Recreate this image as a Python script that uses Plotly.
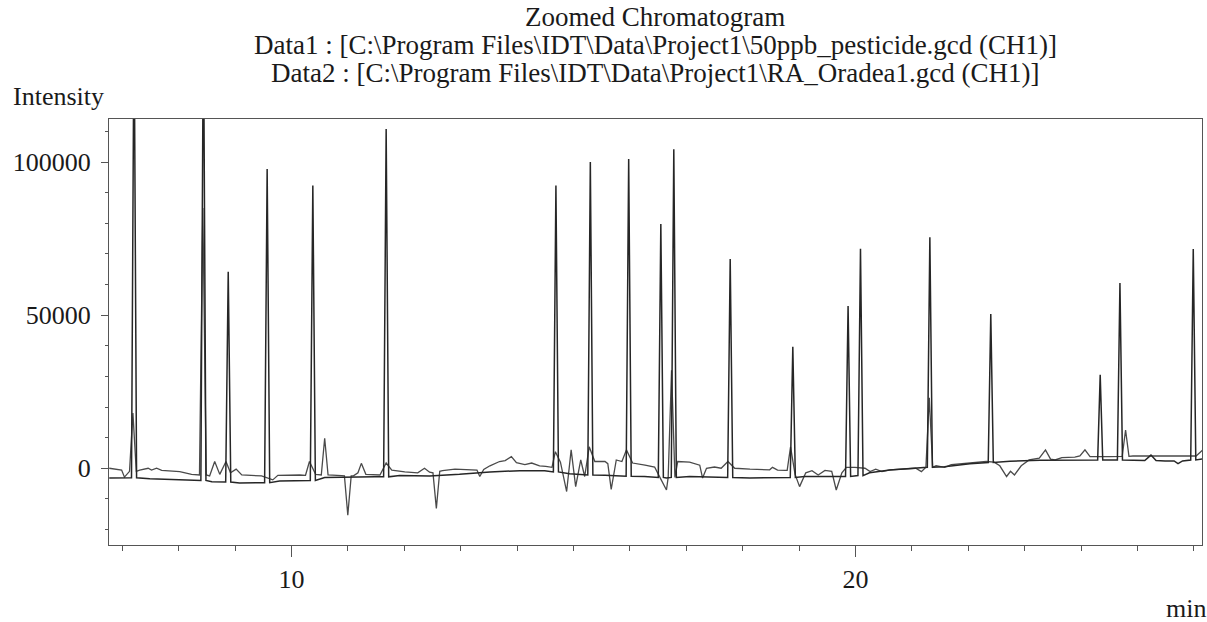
import plotly.graph_objects as go

# ---------------- data ----------------
# Data1 : 50ppb_pesticide.gcd (CH1) -- baseline points (min, intensity)
d1_base_t = [6.77, 7.04, 7.10, 7.49, 7.93, 8.32, 8.59, 8.76, 9.08, 9.44, 9.79, 10.24, 10.59,
             11.03, 11.48, 11.92, 12.45, 12.98, 13.52, 14.05, 14.49, 14.93, 15.20, 15.56, 15.82,
             16.26, 16.65, 17.06, 17.42, 18.13, 18.57, 19.10, 19.54, 20.25, 20.61, 20.96, 21.58,
             22.03, 22.74, 23.27, 23.80, 24.16, 25.04, 25.13, 25.24, 25.33, 25.49, 25.65, 25.72,
             25.80, 26.15]
d1_base_i = [-3200, -3100, -3100, -3400, -3700, -4000, -4400, -4500, -4800, -4900, -4200, -3900, -3000,
             -2800, -2800, -2400, -2500, -2000, -1200, -800, -800, -1800, -2100, -2300, -2500,
             -2700, -3200, -2700, -2900, -3200, -3100, -2700, -2700, -1500, -600, -200, 500,
             1500, 2300, 2600, 2700, 2700, 2500, 2500, 4300, 2500, 2400, 2400, 1500,
             2400, 3000]
# Data1 peaks: retention time, apex intensity, foot level
d1_peak_t = [7.21, 8.44, 8.88, 9.57, 10.38, 11.68, 14.69, 15.30, 15.98, 16.55, 16.78, 17.78,
             18.89, 19.87, 20.09, 21.32, 22.40, 24.34, 24.69, 25.99]
d1_peak_h = [150000, 150000, 64200, 97700, 92300, 110800, 92300, 100000, 101000, 79800, 104200, 68300,
             39700, 53000, 71700, 75400, 50400, 30500, 60500, 71600]
d1_peak_b = [-3100, -4000, -4500, -4700, -4000, -2800, -1200, -2200, -2600, -3000, -3000, -3000,
             -3000, -2700, -2400, 300, 1900, 2700, 2700, 2700]

# Data2 : RA_Oradea1.gcd (CH1) -- baseline points (min, intensity)
d2_base_t = [6.77, 6.92, 6.99, 7.04, 7.10, 7.31, 7.46, 7.52, 7.61, 7.70, 8.02, 8.23, 8.55, 8.64,
             8.73, 8.84, 8.92, 9.02, 9.12, 9.47, 9.67, 9.76, 10.15, 10.25, 10.32, 10.43, 10.73,
             10.89, 10.94, 11.00, 11.06, 11.10, 11.18, 11.24, 11.32, 11.57, 11.68, 11.78, 12.01,
             12.24, 12.36, 12.45, 12.51, 12.57, 12.63, 12.68, 12.90, 13.16, 13.29, 13.34, 13.41,
             13.52, 13.69, 13.79, 13.90, 13.99, 14.14, 14.26, 14.40, 14.51, 14.62, 14.68, 14.77,
             14.88, 14.96, 15.04, 15.13, 15.20, 15.28, 15.38, 15.56, 15.61, 15.67, 15.76, 15.86,
             15.94, 16.05, 16.27, 16.44, 16.52, 16.65, 16.85, 17.06, 17.24, 17.29, 17.36, 17.50,
             17.62, 17.74, 17.86, 18.13, 18.48, 18.53, 18.62, 18.76, 18.93, 19.01, 19.12, 19.23,
             19.34, 19.46, 19.58, 19.66, 19.76, 19.84, 19.99, 20.17, 20.26, 20.36, 20.47, 20.61,
             20.79, 20.96, 21.07, 21.17, 21.43, 21.58, 21.70, 21.93, 22.20, 22.32, 22.46, 22.56,
             22.68, 22.75, 22.82, 22.94, 23.08, 23.26, 23.37, 23.46, 23.54, 23.66, 23.89, 23.98,
             24.07, 24.16, 24.51, 24.65, 24.92, 25.13, 25.58, 25.90, 26.04, 26.16]
d2_base_i = [0, -300, -600, -2900, -1500, -600, 0, -600, 0, -700, -1100, -2000, -2500, 2200,
             -2000, 2200, -1500, -300, -2200, -2500, -3800, -2300, -2200, -2300, 2200, -2000, -2200,
             -2400, -2500, -15300, -2500, -2500, -1500, 1600, -2000, -2200, 1700, -600, -1200,
             -1500, 0, -1300, -1500, -13100, -1000, -800, -300, -500, -600, -2700, -400,
             800, 2200, 2500, 3800, 1800, 1200, 1700, 800, 600, 300, 5400, 2000,
             -7600, 6000, -6000, 2700, -2700, 7000, 2200, 2200, 1500, -6900, 2700, 2200,
             6000, 1700, 1000, 400, -2500, -7100, 2200, 2000, 1000, -3200, 0, 400,
             0, 2200, 0, -300, -500, 300, -600, -700, -2000, -6000, -1500, -800,
             -2200, -700, -1000, -7100, -1500, 300, 300, 0, -1100, -300, -1100, -500,
             -300, 0, 0, -1100, 800, 300, 1200, 1600, 2000, 2200, 2000, 800,
             -2700, -1000, -2200, 800, 2700, 3300, 6000, 3000, 2700, 3500, 3600, 4000,
             6000, 3800, 3800, 3800, 4000, 4000, 3800, 3800, 4000, 6000]
# Data2 peaks
d2_peak_t = [7.19, 8.43, 10.59, 16.74, 18.85, 21.31, 24.79]
d2_peak_h = [18000, 85000, 9800, 32000, 7000, 23000, 12500]
d2_peak_b = [-1000, -2200, -2200, -3000, -700, 300, 3900]

x_ticks = [10, 20]
y_ticks = [0, 50000, 100000]
x_range = [6.766, 26.145]
y_range = [-25065, 114052]

title_lines = [
    "Zoomed Chromatogram",
    "Data1 : [C:\\Program Files\\IDT\\Data\\Project1\\50ppb_pesticide.gcd (CH1)]",
    "Data2 : [C:\\Program Files\\IDT\\Data\\Project1\\RA_Oradea1.gcd (CH1)]",
]

# ---------------- build traces ----------------
def build(base_t, base_i, peak_t, peak_h, peak_b, hw):
    pts = [(t, v) for t, v in zip(base_t, base_i) if all(abs(t - p) > hw for p in peak_t)]
    for p, h, b in zip(peak_t, peak_h, peak_b):
        pts += [(p - hw, b), (p, h), (p + hw, b)]
    pts.sort()
    return [q[0] for q in pts], [q[1] for q in pts]

x1, y1 = build(d1_base_t, d1_base_i, d1_peak_t, d1_peak_h, d1_peak_b, 0.045)
x2, y2 = build(d2_base_t, d2_base_i, d2_peak_t, d2_peak_h, d2_peak_b, 0.06)

FONT = "Liberation Serif"
TXT = "#1a1a1a"
fig = go.Figure()
fig.add_trace(go.Scatter(x=x2, y=y2, mode="lines", name="Data2",
                         line=dict(color="#4a4a4a", width=1.3)))
fig.add_trace(go.Scatter(x=x1, y=y1, mode="lines", name="Data1",
                         line=dict(color="#262626", width=1.5)))

W, H = 1207, 622
L, T = 109, 119
R, B = W - 1202, H - 545
pw, ph = W - L - R, H - T - B

def px(xp):
    return (xp - L) / pw

def py(yp):
    return (H - B - yp) / ph

annotations = []
for txt, yc in zip(title_lines, [17, 45, 73]):
    annotations.append(dict(text=txt, x=px(655), y=py(yc), xref="paper", yref="paper",
                            xanchor="center", yanchor="middle", showarrow=False,
                            font=dict(family=FONT, size=27, color=TXT)))
annotations.append(dict(text="Intensity", x=px(58), y=py(97), xref="paper", yref="paper",
                        xanchor="center", yanchor="middle", showarrow=False,
                        font=dict(family=FONT, size=26, color=TXT)))
annotations.append(dict(text="min", x=px(1186), y=py(608), xref="paper", yref="paper",
                        xanchor="center", yanchor="middle", showarrow=False,
                        font=dict(family=FONT, size=26, color=TXT)))

fig.update_layout(
    width=W, height=H,
    margin=dict(l=L, r=R, t=T, b=B),
    paper_bgcolor="white", plot_bgcolor="white",
    showlegend=False,
    font=dict(family=FONT, size=26, color=TXT),
    annotations=annotations,
)
fig.update_xaxes(range=x_range, tickvals=x_ticks, ticks="outside", ticklen=11, tickwidth=1,
                 tickcolor="#555", showline=True, linecolor="#555", linewidth=1, mirror=True,
                 showgrid=False, zeroline=False,
                 minor=dict(dtick=1, tick0=0, ticks="outside", ticklen=5, tickcolor="#555",
                            showgrid=False),
                 tickfont=dict(family=FONT, size=26, color=TXT))
fig.update_yaxes(range=y_range, tickvals=y_ticks, ticks="outside", ticklen=7, tickwidth=1,
                 tickcolor="#555", showline=True, linecolor="#555", linewidth=1, mirror=True,
                 showgrid=False, zeroline=False, tickformat="d", ticklabelstandoff=5,
                 minor=dict(dtick=10000, tick0=0, ticks="outside", ticklen=3, tickcolor="#555",
                            showgrid=False),
                 tickfont=dict(family=FONT, size=26, color=TXT))

fig.write_html("out.html", config={"displayModeBar": False},
               post_script="document.body.style.margin='0';document.body.style.overflow='hidden';")
